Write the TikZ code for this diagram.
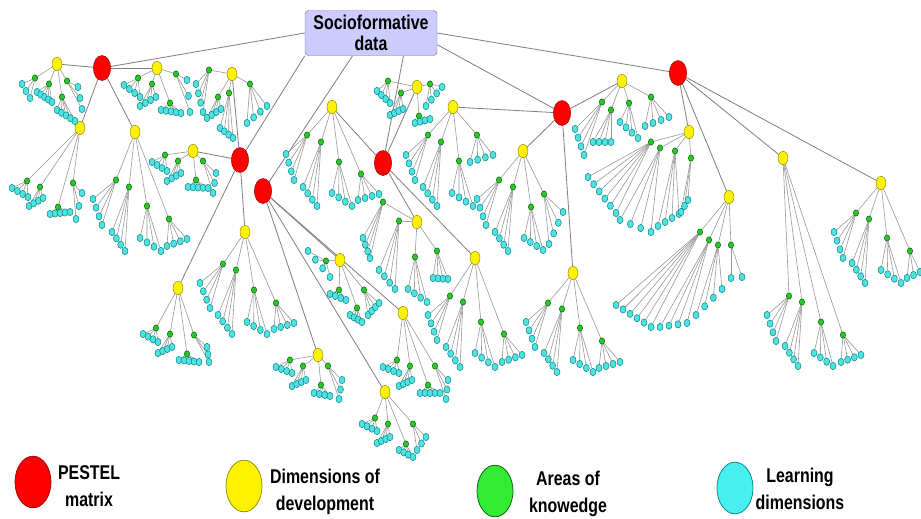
\documentclass[tikz,border=0pt]{standalone}
\usepackage{fontspec}
\setmainfont{Liberation Sans}
\newfontfamily\narrowfont[FakeStretch=0.8]{Liberation Sans}
\usetikzlibrary{shapes.geometric,calc}
\pgfdeclarelayer{edges}
\pgfsetlayers{edges,main}
\definecolor{boxfill}{RGB}{204,204,255}
\definecolor{boxline}{RGB}{120,120,170}
\definecolor{areagreen}{RGB}{40,200,40}
\definecolor{learncyan}{RGB}{80,225,225}
\definecolor{keygreen}{RGB}{50,235,50}
\definecolor{keycyan}{RGB}{70,240,240}
\definecolor{linkgray}{RGB}{150,150,150}
\tikzset{
  pestel/.style={ellipse,draw=red!60!black,fill=red,minimum width=0.52cm,minimum height=0.75cm,inner sep=0pt},
  dimen/.style={ellipse,draw=olive,fill=yellow,minimum width=0.3cm,minimum height=0.4cm,inner sep=0pt},
  area/.style={ellipse,draw=green!35!black,fill=areagreen,minimum width=0.16cm,minimum height=0.19cm,inner sep=0pt},
  learn/.style={ellipse,draw=teal,fill=learncyan,minimum width=0.18cm,minimum height=0.22cm,inner sep=0pt},
  link/.style={draw=linkgray,line width=0.5pt},
  trunk/.style={draw=gray,line width=0.7pt},
  keyitem/.style={ellipse,line width=0.6pt,minimum width=1.08cm,minimum height=1.55cm,inner sep=0pt},
  keytext/.style={font=\narrowfont\fontsize{17}{23}\selectfont\bfseries,align=center},
}
% one dimension node with its areas and learning dimensions
\newcommand{\areafan}[2]{%
  \foreach \gx/\gy/\nl/\ax/\ay/\bx/\by [count=\k] in {#2}{
    \node[area] (#1g\k) at (\gx,\gy) {};
    \foreach \j in {1,...,\nl}{
      \pgfmathsetmacro\tpos{(\j-1)/(\nl-1)}
      \node[learn] (#1g\k l\j) at ($(\ax,\ay)!\tpos!(\bx,\by)$) {};
    }
  }
  \begin{pgfonlayer}{edges}
  \foreach \gx/\gy/\nl/\ax/\ay/\bx/\by [count=\k] in {#2}{
    \draw[link] (#1) -- (#1g\k);
    \foreach \j in {1,...,\nl}
      \draw[link] (#1g\k) -- (#1g\k l\j);
  }
  \end{pgfonlayer}%
}
\begin{document}
\begin{tikzpicture}[x=0.03cm,y=-0.03cm]
\useasboundingbox (0,0) rectangle (921,518);
%Raiz
\node[draw=boxline,fill=boxfill,rounded corners=3pt,minimum width=3.96cm,minimum height=1.35cm,
  align=center,font=\narrowfont\fontsize{17}{18}\selectfont\bfseries] (data) at (371,33) {Socioformative\\data};
%PESTEL
\node[pestel] (p1) at (102,68) {};
\node[pestel] (p2) at (240,160) {};
\node[pestel] (p3) at (263,191) {};
\node[pestel] (p4) at (383,163) {};
\node[pestel] (p5) at (562,113) {};
\node[pestel] (p6) at (678,73) {};
%Dimensiones
\foreach \x/\y [count=\i] in {57/64,157/68,80/128,135/132,
  193/151,232/74,245/232,178/288,
  340/260,318/355,385/392,403/313,
  332/107,417/87,417/222,475/258,
  453/107,523/151,622/81,573/273,
  689/132,729/197,783/158,881/183}
  \node[dimen] (d\i) at (\x,\y) {};
\begin{pgfonlayer}{edges}
\draw[trunk] (data.west) -- (p1);
\draw[trunk] (data.south west) -- (p2);
\draw[trunk] (data.231) -- (p3);
\draw[trunk] (data.-35) -- (p4);
\draw[trunk] (data.-10) -- (p5);
\draw[trunk] (data.east) -- (p6);
\foreach \p/\i in {p1/1,p1/2,p1/3,p1/4,p2/5,p2/6,p2/7,p2/8,
  p3/9,p3/10,p3/11,p3/12,p4/13,p4/14,p4/15,p4/16,
  p5/17,p5/18,p5/19,p5/20,p6/21,p6/22,p6/23,p6/24}
  \draw[trunk] (\p) -- (d\i);
\end{pgfonlayer}
%Areas y aprendizajes
\areafan{d1}{35/78/3/22/84/30/98, 49/84/5/37/92/52/102, 67/81/3/78/87/82/109, 62/97/5/57/110/75/121}
\areafan{d2}{138/78/4/124/85/140/97, 152/84/4/140/106/156/97, 170/103/5/161/110/181/113, 176/74/3/187/80/190/112}
\areafan{d3}{27/181/4/12/188/28/197, 40/187/4/29/206/43/198, 73/183/3/82/193/76/219, 58/207/5/50/214/70/212}
\areafan{d4}{116/180/4/93/199/102/225, 129/187/4/112/232/125/251, 147/206/4/140/238/161/251, 169/219/4/167/246/187/239}
\areafan{d5}{165/155/4/152/162/167/171, 178/161/4/167/181/181/173, 196/180/5/188/187/208/188, 203/161/3/216/173/213/193}
\areafan{d6}{209/70/4/196/84/203/112, 218/97/4/207/118/221/109, 229/93/4/220/128/233/138, 250/84/4/247/123/267/106}
\areafan{d7}{223/264/4/200/283/210/308, 236/270/4/218/315/232/334, 254/290/4/247/322/267/334, 276/303/4/274/329/294/323}
\areafan{d8}{156/328/4/143/334/158/342, 170/334/4/158/353/172/347, 194/335/3/207/347/209/362, 187/354/5/179/360/199/362}
\areafan{d9}{326/261/4/308/251/330/277, 339/290/4/330/294/346/300, 364/290/4/368/315/379/303, 357/308/4/350/315/362/322}
\areafan{d10}{290/360/4/276/367/292/373, 303/366/4/292/386/306/380, 328/366/3/342/380/339/399, 321/385/4/314/393/330/396}
\areafan{d11}{375/418/4/362/424/377/431, 388/424/4/377/443/390/437, 413/424/3/426/437/417/450, 406/444/4/399/450/413/457}
\areafan{d12}{397/360/4/383/367/399/373, 410/366/4/399/386/412/380, 435/366/3/448/380/446/399, 428/385/5/420/393/440/393}
\areafan{d13}{307/135/4/286/154/294/180, 321/142/4/303/187/317/206, 339/162/4/332/193/352/206, 361/174/4/358/200/379/194}
\areafan{d14}{388/81/4/377/91/390/103, 401/93/4/390/115/403/109, 430/84/4/442/87/426/106, 419/116/4/415/123/430/119}
\areafan{d15}{383/202/4/363/238/370/258, 399/221/4/379/270/395/289, 415/257/4/408/289/427/302, 437/251/4/433/278/448/279}
\areafan{d16}{450/296/4/428/315/437/340, 463/302/4/446/347/460/367, 481/322/4/475/353/495/367, 504/334/4/502/362/522/355}
\areafan{d17}{428/135/4/406/155/415/180, 441/142/4/423/187/437/206, 459/161/4/452/193/473/206, 477/135/4/470/162/493/155}
\areafan{d18}{499/180/4/477/199/486/225, 513/187/4/495/232/508/251, 531/207/4/524/238/543/250, 544/194/4/549/244/563/212}
\areafan{d19}{602/102/4/575/129/584/155, 611/110/4/593/142/611/142, 629/103/4/620/122/638/138, 651/97/4/645/126/669/117}
\areafan{d20}{548/303/4/526/322/535/347, 562/309/4/544/353/557/372, 580/328/4/573/360/593/372, 602/341/4/599/368/620/362}
\areafan{d21}{651/142/6/588/177/616/213, 660/148/4/620/220/651/232, 675/151/4/658/226/679/214, 691/158/3/681/212/688/200}
\areafan{d22}{700/232/6/616/305/651/327, 709/240/4/660/327/687/323, 718/245/4/696/315/722/289, 731/245/2/731/278/742/277}
\areafan{d23}{789/296/4/767/315/776/341, 802/302/4/785/346/798/366, 821/322/4/814/353/833/366, 843/335/4/841/362/861/355}
\areafan{d24}{856/213/4/834/232/843/258, 869/219/4/852/263/865/283, 887/238/4/881/270/901/283, 910/251/3/907/278/920/272}
%Leyenda
\node[keyitem,draw=red!60!black,fill=red] (kp) at (33,482) {};
\node[keytext] (kpt) at (89,486) {PESTEL\\matrix};
\node[keyitem,draw=olive,fill=yellow] (kd) at (244,486) {};
\node[keytext] (kdt) at (325,492) {Dimensions of\\development};
\node[keyitem,draw=green!35!black,fill=keygreen] (ka) at (495,491) {};
\node[keytext] (kat) at (568,494) {Areas of\\knowedge};
\node[keyitem,draw=teal,fill=keycyan] (kl) at (735,488) {};
\node[keytext] (klt) at (800,489) {Learning\\dimensions};
\end{tikzpicture}
\end{document}
